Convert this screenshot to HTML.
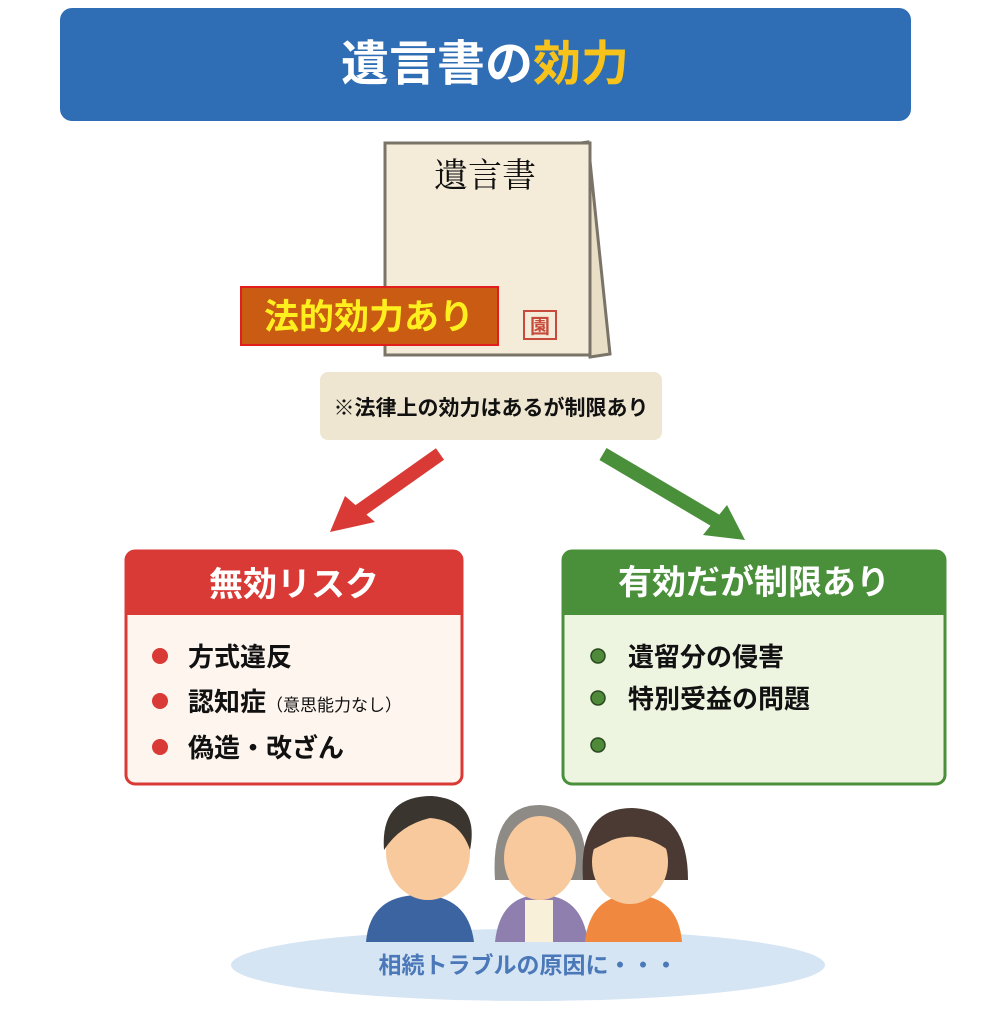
<!DOCTYPE html>
<html><head><meta charset="utf-8"><style>
html,body{margin:0;padding:0;background:#fff;}
svg{display:block}
text{font-family:"Liberation Sans","Noto Sans CJK JP",sans-serif;font-weight:bold}
</style></head><body>
<svg width="988" height="1024" viewBox="0 0 988 1024" xmlns="http://www.w3.org/2000/svg">
<rect width="988" height="1024" fill="#fff"/>
<rect x="60" y="8" width="851" height="113" rx="12" fill="#2f6db5"/>
<text x="485" y="80" font-size="48" text-anchor="middle" fill="#fff">遺言書の<tspan fill="#f7c21a">効力</tspan></text>
<polygon points="560,146 588,142 610,354 590,357" fill="#e9dfc6" stroke="#7a7468" stroke-width="3"/>
<rect x="385" y="143" width="205" height="212" fill="#f4ecd9" stroke="#7a7468" stroke-width="3"/>
<text x="485" y="187" font-size="34" text-anchor="middle" fill="#111" style="font-family:'Noto Serif CJK SC',serif;font-weight:normal">遺言書</text>
<rect x="524" y="311" width="32" height="28" fill="none" stroke="#c84a3a" stroke-width="2"/>
<text x="540" y="333" font-size="20" text-anchor="middle" fill="#c84a3a">園</text>
<rect x="241" y="287" width="257" height="58" fill="#c95b12" stroke="#e21d1d" stroke-width="2"/>
<text x="369" y="329" font-size="35" text-anchor="middle" fill="#ffef1f">法的効力あり</text>
<rect x="320" y="372" width="342" height="68" rx="8" fill="#efe6d1"/>
<text x="491" y="415" font-size="21" text-anchor="middle" fill="#111">※法律上の効力はあるが制限あり</text>
<line x1="440" y1="454" x2="358" y2="512" stroke="#d93a35" stroke-width="14"/>
<polygon points="330,532 345,496 375,522" fill="#d93a35"/>
<line x1="603" y1="454" x2="718" y2="522" stroke="#4a8f3a" stroke-width="14"/>
<polygon points="745,540 703,535 727,505" fill="#4a8f3a"/>
<rect x="126" y="551" width="336" height="233" rx="9" fill="#fdf5ee" stroke="#d93a35" stroke-width="3"/>
<path d="M126,615 V560 a9,9 0 0 1 9,-9 H453 a9,9 0 0 1 9,9 V615 Z" fill="#d93a35"/>
<text x="294" y="596" font-size="34" text-anchor="middle" fill="#fff">無効リスク</text>
<circle cx="160" cy="656" r="8" fill="#d93a35"/>
<circle cx="160" cy="701" r="8" fill="#d93a35"/>
<circle cx="160" cy="747" r="8" fill="#d93a35"/>
<text x="188" y="666" font-size="26" fill="#111">方式違反</text>
<text x="188" y="711" font-size="26" fill="#111">認知症<tspan font-size="17" font-weight="normal">（意思能力なし）</tspan></text>
<text x="188" y="757" font-size="26" fill="#111">偽造・改ざん</text>
<rect x="563" y="551" width="382" height="233" rx="9" fill="#edf4e0" stroke="#4a8f3a" stroke-width="3"/>
<path d="M563,615 V560 a9,9 0 0 1 9,-9 H936 a9,9 0 0 1 9,9 V615 Z" fill="#4a8f3a"/>
<text x="754" y="594" font-size="34" text-anchor="middle" fill="#fff">有効だが制限あり</text>
<circle cx="598" cy="656" r="7" fill="#4f8a3a" stroke="#2a4a20" stroke-width="1.5"/>
<circle cx="598" cy="698" r="7" fill="#4f8a3a" stroke="#2a4a20" stroke-width="1.5"/>
<circle cx="598" cy="745" r="7" fill="#4f8a3a" stroke="#2a4a20" stroke-width="1.5"/>
<text x="628" y="666" font-size="26" fill="#111">遺留分の侵害</text>
<text x="628" y="708" font-size="26" fill="#111">特別受益の問題</text>
<ellipse cx="528" cy="965" rx="297" ry="36" fill="#d6e5f4"/>
<g>
<path d="M366,942 Q370,895 420,895 Q468,895 474,942 Z" fill="#3c64a0"/>
<ellipse cx="428" cy="852" rx="42" ry="48" fill="#f7c99c"/>
<path d="M384,850 Q380,796 432,796 Q480,800 470,850 Q460,820 430,818 Q400,825 384,850Z" fill="#3b3530"/>
<path d="M495,942 Q500,895 540,895 Q582,895 588,942 Z" fill="#8e7fae"/>
<rect x="525" y="900" width="28" height="42" fill="#f8f0d8"/>
<path d="M495,880 Q490,805 540,805 Q592,808 585,880 Z" fill="#8e8a86"/>
<ellipse cx="540" cy="858" rx="36" ry="42" fill="#f7c99c"/>
<path d="M585,942 Q590,895 632,895 Q678,895 682,942 Z" fill="#f08840"/>
<path d="M583,880 Q578,808 632,808 Q688,810 688,880 Z" fill="#4a3a33"/>
<ellipse cx="630" cy="862" rx="38" ry="42" fill="#f7c99c"/>
<path d="M592,850 Q600,818 632,818 Q660,825 668,850 Q640,830 612,840Z" fill="#4a3a33"/>
</g>
<text x="528" y="973" font-size="23" text-anchor="middle" fill="#4a78b8">相続トラブルの原因に・・・</text>
</svg>
</body></html>
